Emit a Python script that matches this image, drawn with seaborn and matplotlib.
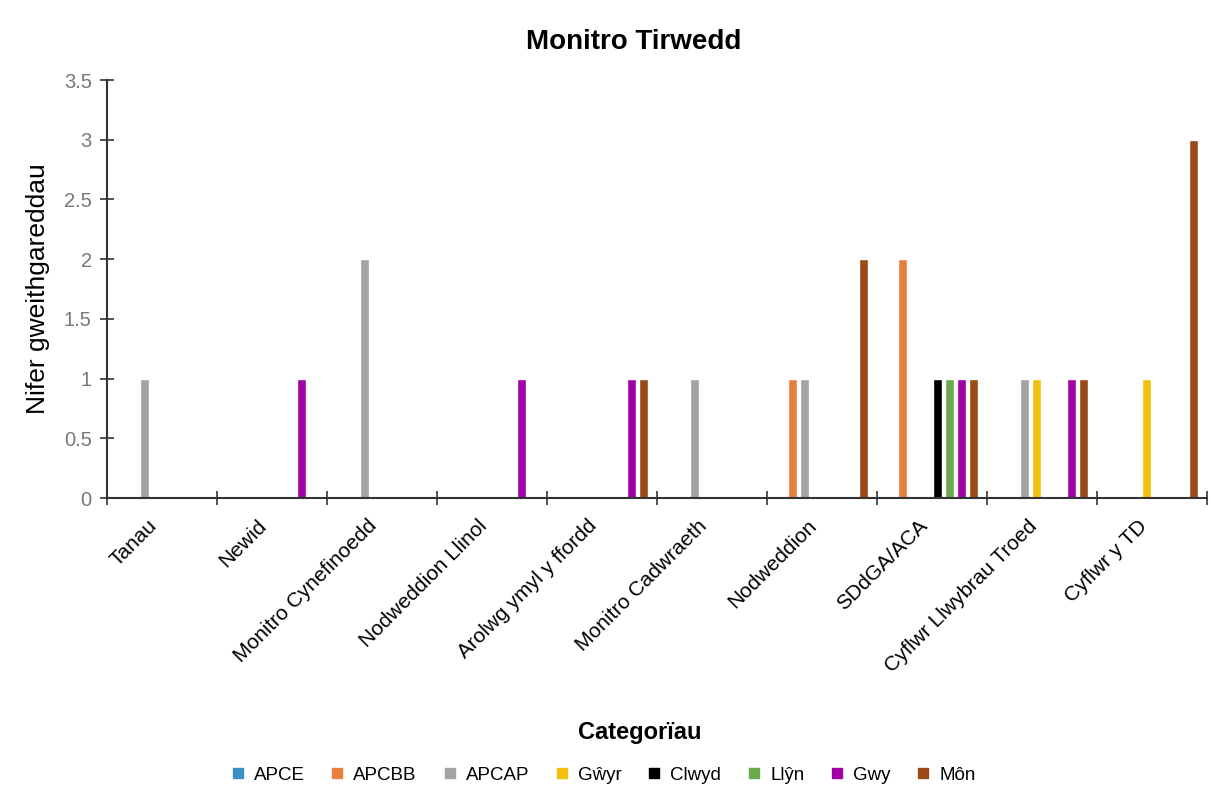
import pandas as pd
import matplotlib
matplotlib.use("Agg")
import matplotlib.pyplot as plt
import matplotlib.transforms as mtransforms
from matplotlib.lines import Line2D
from matplotlib.ticker import FixedLocator, FuncFormatter
import seaborn as sns

# data
categories = ['Tanau', 'Newid', 'Monitro Cynefinoedd', 'Nodweddion Llinol',
              'Arolwg ymyl y ffordd', 'Monitro Cadwraeth', 'Nodweddion',
              'SDdGA/ACA', 'Cyflwr Llwybrau Troed', 'Cyflwr y TD']
series = ['APCE', 'APCBB', 'APCAP', 'Gŵyr', 'Clwyd', 'Llŷn', 'Gwy', 'Môn']

apce  = [0, 0, 0, 0, 0, 0, 0, 0, 0, 0]
apcbb = [0, 0, 0, 0, 0, 0, 1, 2, 0, 0]
apcap = [1, 0, 2, 0, 0, 1, 1, 0, 1, 0]
gwyr  = [0, 0, 0, 0, 0, 0, 0, 0, 1, 1]
clwyd = [0, 0, 0, 0, 0, 0, 0, 1, 0, 0]
llyn  = [0, 0, 0, 0, 0, 0, 0, 1, 0, 0]
gwy   = [0, 1, 0, 1, 1, 0, 0, 1, 1, 0]
mon   = [0, 0, 0, 0, 1, 0, 2, 1, 1, 3]

colors = ['#3b8fc2', '#e8803c', '#a3a3a3', '#f4c010',
          '#000000', '#6aa84f', '#a100a8', '#9a4a17']

values = [apce, apcbb, apcap, gwyr, clwyd, llyn, gwy, mon]
rows = []
for name, vals in zip(series, values):
    for cat, v in zip(categories, vals):
        rows.append({'Categori': cat, 'Cyfres': name, 'Nifer': v})
df = pd.DataFrame(rows)

sns.set_style("white")
plt.rcParams['font.family'] = ['Liberation Sans', 'DejaVu Sans']
plt.rcParams['text.color'] = 'black'
plt.rcParams['axes.labelcolor'] = 'black'
plt.rcParams['xtick.color'] = 'black'

fig = plt.figure(figsize=(12.11, 7.96), dpi=100)
ax = fig.add_axes([107 / 1211, 1 - 498 / 796, 1100 / 1211, 418 / 796])

sns.barplot(data=df, x='Categori', y='Nifer', hue='Cyfres',
            order=categories, hue_order=series, palette=colors,
            width=0.87, gap=0.25, legend=False, ax=ax, saturation=1)

ax.set_xlim(-0.5, len(categories) - 0.5)
ax.set_ylim(0, 3.5)
ax.yaxis.set_major_locator(FixedLocator([0, 0.5, 1, 1.5, 2, 2.5, 3, 3.5]))
ax.yaxis.set_major_formatter(FuncFormatter(lambda v, p: '%g' % v))
ax.tick_params(axis='y', left=True, direction='inout', length=10, width=1.2,
               labelsize=14.5, labelcolor='#777777', color='#333333', pad=6)

# ticks between categories, labels at the centres
ax.xaxis.set_minor_locator(FixedLocator([i - 0.5 for i in range(len(categories) + 1)]))
ax.tick_params(axis='x', which='minor', bottom=True, direction='inout',
               length=10, width=1.2, color='#333333')
ax.tick_params(axis='x', which='major', length=0, labelsize=15, pad=18,
               labelcolor='black')
offset = mtransforms.ScaledTranslation(-8 / 100, 0, fig.dpi_scale_trans)
for lab in ax.get_xticklabels():
    lab.set_rotation(45)
    lab.set_ha('right')
    lab.set_va('center')
    lab.set_rotation_mode('anchor')
    lab.set_transform(lab.get_transform() + offset)

for s in ['top', 'right']:
    ax.spines[s].set_visible(False)
for s in ['left', 'bottom']:
    ax.spines[s].set_color('#333333')
    ax.spines[s].set_linewidth(1.5)

ax.set_xlabel('')
ax.set_ylabel('Nifer gweithgareddau', fontsize=19, labelpad=10)

fig.text(634 / 1211, 1 - 42 / 796, 'Monitro Tirwedd', fontsize=20,
         fontweight='bold', ha='center', va='center')
fig.text(640 / 1211, 1 - 733 / 796, 'Categorïau', fontsize=17,
         fontweight='bold', ha='center', va='center')
handles = [Line2D([], [], marker='s', linestyle='', markersize=7,
                  markerfacecolor=c, markeredgecolor=c, label=n)
           for n, c in zip(series, colors)]
fig.legend(handles=handles, loc='center', ncol=8, frameon=False,
           bbox_to_anchor=(602 / 1211, 1 - 775 / 796), fontsize=13.5,
           handletextpad=0.35, columnspacing=1.25, handlelength=1.0)

fig.savefig('out.png', dpi=100)
